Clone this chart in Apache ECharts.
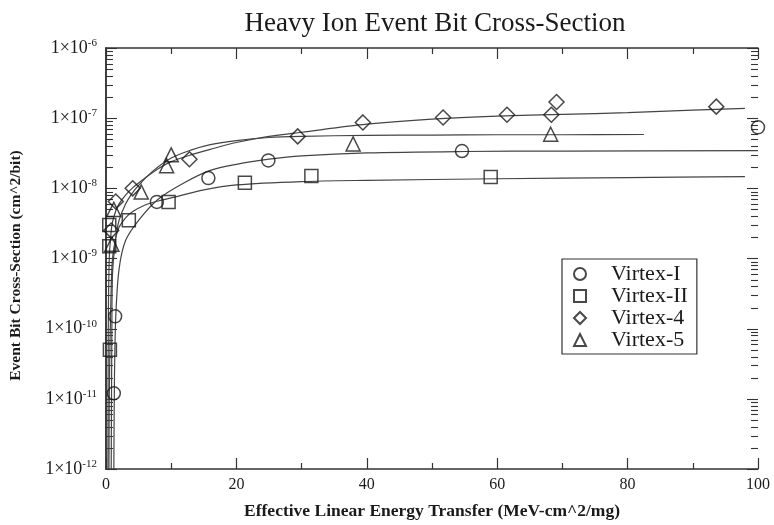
<!DOCTYPE html>
<html><head><meta charset="utf-8">
<script src="https://cdn.jsdelivr.net/npm/echarts@6/dist/echarts.min.js"></script>
<style>html,body{margin:0;padding:0;background:#fff}#c{width:774px;height:525px}</style>
</head><body><div id="c"></div>
<script>
var titleText = 'Heavy Ion Event Bit Cross-Section';
var xName = 'Effective Linear Energy Transfer (MeV-cm^2/mg)';
var yName = 'Event Bit Cross-Section (cm^2/bit)';
var seriesNames = ['Virtex-I', 'Virtex-II', 'Virtex-4', 'Virtex-5'];
var xTicks = [0, 20, 40, 60, 80, 100];
var yDecades = [-12, -11, -10, -9, -8, -7, -6];

// measured points
var v1X = [1.2, 1.4, 7.8, 15.7, 24.9, 54.6, 100];
var v1Y = [1.2e-11, 1.5e-10, 6.4e-9, 1.4e-8, 2.5e-8, 3.4e-8, 7.4e-8];
var v2X = [0.6, 0.5, 0.5, 3.5, 9.6, 21.3, 31.5, 59];
var v2Y = [5e-11, 1.5e-9, 3e-9, 3.5e-9, 6.4e-9, 1.2e-8, 1.5e-8, 1.45e-8];
var v4X = [0.8, 1.5, 4.1, 12.8, 29.4, 39.4, 51.7, 61.5, 68.3, 69.1, 93.6];
var v4Y = [2.5e-9, 6.5e-9, 1e-8, 2.6e-8, 5.5e-8, 8.7e-8, 1.02e-7, 1.12e-7, 1.12e-7, 1.7e-7, 1.46e-7];
var v5X = [0.9, 1.2, 5.4, 9.3, 10, 37.9, 68.2];
var v5Y = [1.6e-9, 5e-9, 8.9e-9, 2.1e-8, 3e-8, 4.3e-8, 5.9e-8];

// fitted curves
var f1X = [1.2, 1.3, 1.5, 2, 3, 5, 8, 12, 16, 20, 25, 30, 40, 55, 70, 100];
var f1Y = [1e-12, 2e-11, 1.5e-10, 7e-10, 1.8e-9, 3.5e-9, 7e-9, 1.2e-8, 1.8e-8, 2.2e-8, 2.6e-8, 2.9e-8, 3.2e-8, 3.35e-8, 3.4e-8, 3.45e-8];
var f2X = [0.45, 0.5, 0.6, 0.8, 1, 1.5, 2, 3, 4, 6, 8, 10, 15, 20, 30, 40, 60, 80, 98];
var f2Y = [1e-12, 1e-11, 5e-11, 4e-10, 1e-9, 2e-9, 2.8e-9, 3.8e-9, 4.6e-9, 5.8e-9, 6.6e-9, 7.3e-9, 9.5e-9, 1.12e-8, 1.25e-8, 1.3e-8, 1.37e-8, 1.42e-8, 1.47e-8];
var f4X = [0.3, 0.35, 0.5, 0.8, 1, 1.5, 2, 3, 4, 6, 8, 10, 13, 16, 20, 25, 30, 40, 50, 60, 70, 80, 90, 98];
var f4Y = [1e-12, 1e-10, 1e-9, 2.5e-9, 3.3e-9, 4.8e-9, 6e-9, 8e-9, 1e-8, 1.4e-8, 1.9e-8, 2.4e-8, 3e-8, 3.6e-8, 4.5e-8, 5.5e-8, 6.3e-8, 8.2e-8, 9.7e-8, 1.07e-7, 1.13e-7, 1.2e-7, 1.3e-7, 1.38e-7];
var f5X = [0.8, 0.9, 1, 1.5, 2, 3, 4, 5, 7, 10, 13, 16, 20, 25, 30, 40, 50, 60, 70, 82.5];
var f5Y = [1e-12, 1e-10, 6e-10, 2e-9, 3.5e-9, 6e-9, 8.5e-9, 1.1e-8, 1.7e-8, 2.7e-8, 3.5e-8, 4.2e-8, 4.8e-8, 5.3e-8, 5.5e-8, 5.7e-8, 5.75e-8, 5.8e-8, 5.8e-8, 5.85e-8];

function zip(a, b) { return a.map(function (v, i) { return [v, b[i]]; }); }

var FONT = 'Liberation Serif';
var INK = '#1a1a1a';
var symbols = ['circle', 'rect', 'diamond', 'triangle'];
var sizes = [13, 13, 15, 14];
var pts = [zip(v1X, v1Y), zip(v2X, v2Y), zip(v4X, v4Y), zip(v5X, v5Y)];
var fits = [zip(f1X, f1Y), zip(f2X, f2Y), zip(f4X, f4Y), zip(f5X, f5Y)];

var series = [];
fits.forEach(function (d) {
  series.push({ type: 'line', data: d, showSymbol: false, symbol: 'none', smooth: 0.3,
    lineStyle: { color: '#444', width: 1.2 }, silent: true, z: 2 });
});
pts.forEach(function (d, i) {
  series.push({ name: seriesNames[i], type: 'scatter', data: d, symbol: symbols[i], symbolSize: sizes[i],
    itemStyle: { color: 'rgba(255,255,255,0)', borderColor: INK, borderWidth: 1.5 }, z: 3 });
});

var axisLine = { show: true, lineStyle: { color: '#333', width: 1.5 } };
var tickStyle = { color: '#333', width: 1.2 };
var chart = echarts.init(document.getElementById('c'));
chart.setOption({
  animation: false,
  backgroundColor: '#fff',
  title: { text: titleText, left: 430, top: 5, textAlign: 'center',
    textStyle: { fontFamily: FONT, fontSize: 27, fontWeight: 'normal', color: INK } },
  grid: { left: 104, right: 16, top: 48, bottom: 53 },
  legend: {
    data: seriesNames.map(function (n, i) { return { name: n, icon: symbols[i] }; }),
    orient: 'vertical', left: 562, top: 259,
    itemWidth: 12, itemHeight: 12, itemGap: 0,
    padding: [4, 9, 3, 11],
    borderColor: '#333', borderWidth: 1.2, backgroundColor: '#fff',
    textStyle: { fontFamily: FONT, fontSize: 22, color: INK, padding: [0, 0, 0, 20] },
    selectedMode: false
  },
  xAxis: [{
    type: 'value', min: 0, max: 100, interval: 20, position: 'bottom',
    name: xName, nameLocation: 'middle', nameGap: 33,
    nameTextStyle: { fontFamily: FONT, fontSize: 17.5, fontWeight: 'bold', color: INK },
    axisLine: axisLine,
    axisTick: { inside: true, length: 11, lineStyle: tickStyle },
    minorTick: { show: true, splitNumber: 2, length: 6, lineStyle: tickStyle },
    axisLabel: { fontFamily: FONT, fontSize: 16, color: INK, margin: 8 },
    splitLine: { show: false }
  }, {
    type: 'value', min: 0, max: 100, interval: 20, position: 'top',
    axisLine: axisLine,
    axisTick: { inside: true, length: 11, lineStyle: tickStyle },
    minorTick: { show: true, splitNumber: 2, length: 6, lineStyle: tickStyle },
    axisLabel: { show: false }, splitLine: { show: false }
  }],
  yAxis: [{
    type: 'log', logBase: 10, min: 1e-12, max: 1e-6, position: 'left',
    name: yName, nameLocation: 'middle', nameGap: 82,
    nameTextStyle: { fontFamily: FONT, fontSize: 15.5, fontWeight: 'bold', color: INK, padding: [0, 14, 0, 0] },
    axisLine: axisLine,
    axisTick: { show: false },
    axisLabel: {
      margin: 9,
      formatter: function (v) { var e = Math.round(Math.log10(v)); return '{a|1×10}{b|' + e + '}'; },
      rich: {
        a: { fontFamily: FONT, fontSize: 18, color: INK },
        b: { fontFamily: FONT, fontSize: 11, color: INK, padding: [0, 0, 10, 0] }
      }
    },
    splitLine: { show: false }
  }, {
    type: 'log', logBase: 10, min: 1e-12, max: 1e-6, position: 'right',
    axisLine: axisLine,
    axisTick: { show: false },
    axisLabel: { show: false }, splitLine: { show: false }
  }],
  series: series
});

// inward ticks on both vertical axes: decades (long) and 2..9 (short)
var g = [];
var xl = chart.convertToPixel({ xAxisIndex: 0 }, xTicks[0]);
var xr = chart.convertToPixel({ xAxisIndex: 0 }, xTicks[xTicks.length - 1]);
function tick(v, len) {
  var yy = Math.round(chart.convertToPixel({ yAxisIndex: 0 }, v)) + 0.5;
  g.push({ type: 'line', shape: { x1: xl, y1: yy, x2: xl + len, y2: yy }, style: { stroke: '#333', lineWidth: 1.1 }, silent: true });
  g.push({ type: 'line', shape: { x1: xr - len, y1: yy, x2: xr, y2: yy }, style: { stroke: '#333', lineWidth: 1.1 }, silent: true });
}
for (var i = 0; i < yDecades.length; i++) {
  tick(Math.pow(10, yDecades[i]), 11);
  if (i < yDecades.length - 1) {
    for (var k = 2; k <= 9; k++) tick(k * Math.pow(10, yDecades[i]), 7);
  }
}
chart.setOption({ graphic: g });
</script></body></html>
